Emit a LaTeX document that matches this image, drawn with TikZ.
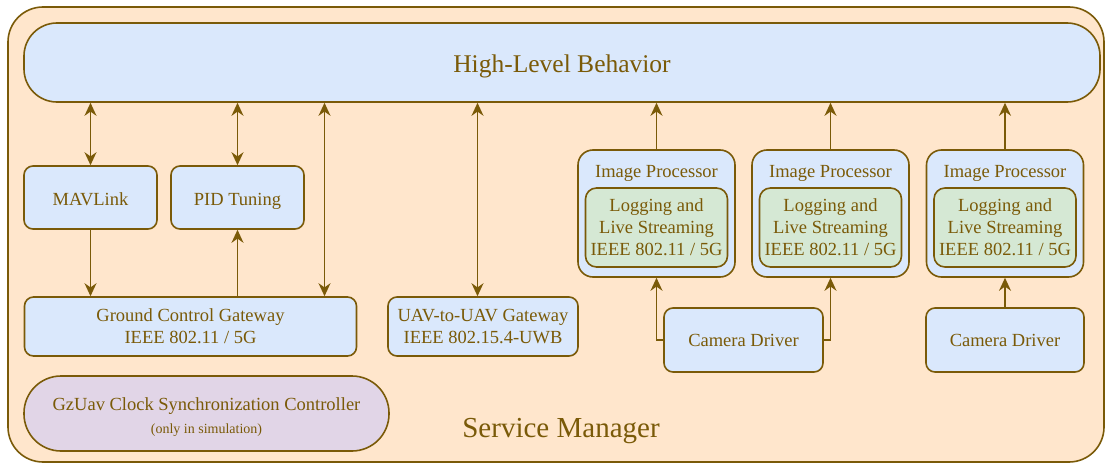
\documentclass[tikz,border=0pt]{standalone}
\usepackage{fontspec}
\setmainfont{Liberation Serif}
\usetikzlibrary{arrows.meta}
\definecolor{smfill}{HTML}{FFE6CC}
\definecolor{bluefill}{HTML}{DAE8FC}
\definecolor{greenfill}{HTML}{D5E8D4}
\definecolor{purplefill}{HTML}{E1D5E7}
\definecolor{ink}{HTML}{7A5A08}
\begin{document}
\begin{tikzpicture}[x=1pt,y=-1pt,
  every node/.style={text=ink, inner sep=0pt, align=center, font=\fontsize{18.5}{22}\selectfont},
  sl/.style={text height=#1, text depth=0pt},
  box/.style={draw=ink, line width=1.6pt, fill=bluefill, rounded corners=9pt},
  arr/.style={draw=ink, line width=1.6pt, -{Stealth[length=13pt,width=12pt]}},
  biarr/.style={draw=ink, line width=1.6pt, {Stealth[length=13pt,width=12pt]}-{Stealth[length=13pt,width=12pt]}},
]
\useasboundingbox (0,0) rectangle (1105,463);
% Service Manager container
\node[draw=ink, line width=1.6pt, fill=smfill, rounded corners=35pt, minimum width=1096pt, minimum height=455pt] (sm) at (556,234.5) {};
\node[anchor=base, font=\fontsize{29}{32}\selectfont] (smlabel) at (561,437.3) {Service Manager};
% High-level behavior
\node[box, sl=20.4pt, rounded corners=33pt, minimum width=1076pt, minimum height=79pt, font=\fontsize{25.5}{28}\selectfont] (hlb) at (562,62.5) {High-Level Behavior};
% left column
\node[box, sl=15pt, minimum width=133pt, minimum height=63pt] (mav) at (90.5,197.5) {MAVLink};
\node[box, sl=15pt, minimum width=133pt, minimum height=63pt] (pid) at (237.5,197.5) {PID Tuning};
\node[box, minimum width=332pt, minimum height=59pt] (gcg) at (190.5,326.5) {Ground Control Gateway\\IEEE 802.11 / 5G};
\node[box, minimum width=190pt, minimum height=59pt] (uav) at (483,326.5) {UAV-to-UAV Gateway\\IEEE 802.15.4-UWB};
\node[box, fill=purplefill, rounded corners=37pt, minimum width=365pt, minimum height=75pt] (gz) at (206.5,413.5) {};
\node[anchor=base] (gzt) at (206.5,410) {GzUav Clock Synchronization Controller};
\node[anchor=base, font=\fontsize{14}{16}\selectfont] (gzs) at (206.5,433.3) {(only in simulation)};
% image processors
\foreach \i/\cx in {1/656.5, 2/830.5, 3/1005} {
  \node[box, rounded corners=15pt, minimum width=157pt, minimum height=127pt] (ip\i) at (\cx,213.5) {};
  \node[anchor=base] (ipl\i) at (\cx,177.7) {Image Processor};
  \node[box, fill=greenfill, rounded corners=11pt, minimum width=142pt, minimum height=79pt] (log\i) at (\cx,227.5) {Logging and\\Live Streaming\\IEEE 802.11 / 5G};
  \draw[arr] (ip\i.north) -- (ip\i.north |- hlb.south);
}
\node[box, sl=13.4pt, minimum width=159pt, minimum height=64pt] (cam1) at (743.5,340) {Camera Driver};
\node[box, sl=13.4pt, minimum width=158pt, minimum height=64pt] (cam2) at (1005,340) {Camera Driver};
% connectors
\coordinate (xa) at (324.5,0);
\coordinate (xb) at (477.5,0);
\draw[biarr] (mav.north) -- (mav.north |- hlb.south);
\draw[biarr] (pid.north) -- (pid.north |- hlb.south);
\draw[biarr] (xa |- hlb.south) -- (xa |- gcg.north);
\draw[biarr] (xb |- hlb.south) -- (xb |- uav.north);
\draw[arr] (mav.south) -- (mav.south |- gcg.north);
\draw[arr] (pid.south |- gcg.north) -- (pid.south);
\draw[arr] (cam1.west) -| (ip1.south);
\draw[arr] (cam1.east) -| (ip2.south);
\draw[arr] (cam2.north) -- (ip3.south);
\end{tikzpicture}
\end{document}
